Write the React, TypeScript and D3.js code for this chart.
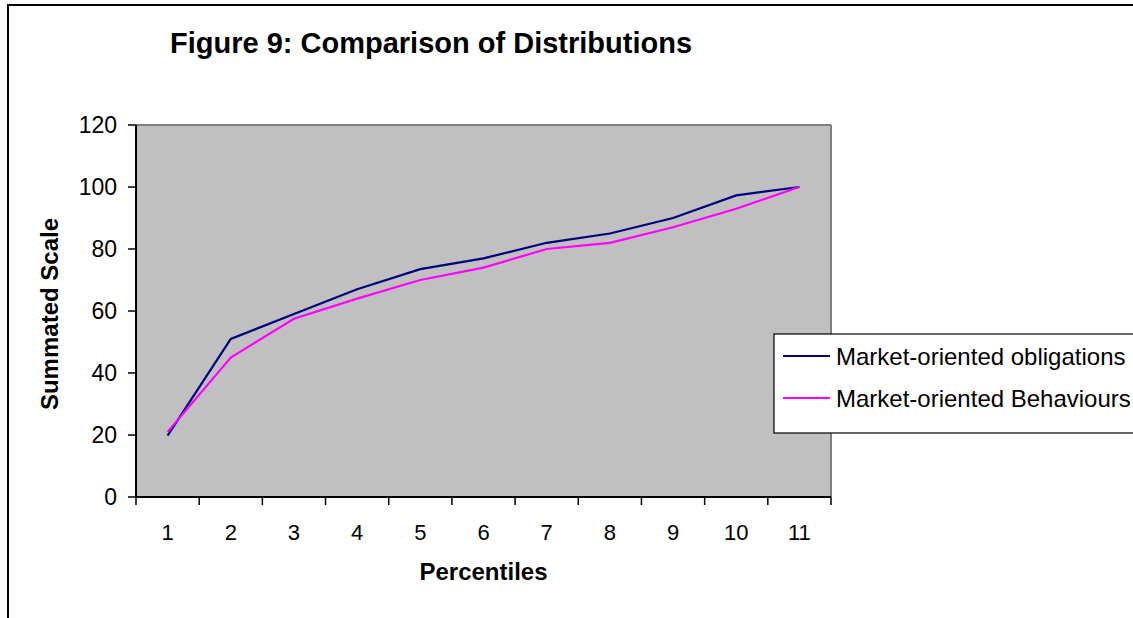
import React from "react";
import * as d3 from "d3";

const categories = ["1", "2", "3", "4", "5", "6", "7", "8", "9", "10", "11"];
const obligations = [19.8, 51, 59, 67, 73.5, 77, 82, 85, 90, 97.3, 100];
const behaviours = [21, 45, 57.5, 64, 70, 74, 80, 82, 87, 93, 100];
const yTicks = [0, 20, 40, 60, 80, 100, 120];
const seriesNames = ["Market-oriented obligations", "Market-oriented Behaviours"];
const seriesColors = ["#000080", "#FF00FF"];

const W = 1133;
const H = 618;
const plot = { left: 136, right: 831, top: 125, bottom: 497 };
const FONT = "'Liberation Sans', Arial, sans-serif";

export default function App() {
  const x = d3.scaleBand<string>().domain(categories).range([plot.left, plot.right]);
  const y = d3.scaleLinear().domain([0, 120]).range([plot.bottom, plot.top]);
  const line = d3
    .line<number>()
    .x((_, i) => (x(categories[i]) as number) + x.bandwidth() / 2)
    .y((d) => y(d));
  const series = [obligations, behaviours];
  const boundaries = categories.map((c) => x(c) as number).concat([plot.right]);

  return (
    <svg
      width={W}
      height={H}
      style={{ position: "absolute", left: 0, top: 0, background: "#fff" }}
      fontFamily={FONT}
    >
      {/* outer frame */}
      <rect x={8} y={5} width={W + 20} height={H + 20} fill="#fff" stroke="#000" strokeWidth={2} />

      {/* title */}
      <text x={170} y={53} fontSize={29} fontWeight="bold" fill="#000">
        Figure 9: Comparison of Distributions
      </text>

      {/* plot area */}
      <rect
        x={plot.left}
        y={plot.top}
        width={plot.right - plot.left}
        height={plot.bottom - plot.top}
        fill="#C0C0C0"
      />
      <line x1={plot.left} x2={plot.right} y1={plot.top} y2={plot.top} stroke="#808080" strokeWidth={2} />
      <line x1={plot.right} x2={plot.right} y1={plot.top} y2={plot.bottom} stroke="#808080" strokeWidth={2} />

      {/* series */}
      {series.map((s, i) => (
        <path key={i} d={line(s) as string} fill="none" stroke={seriesColors[i]} strokeWidth={2.2} />
      ))}

      {/* y axis */}
      <line x1={plot.left} x2={plot.left} y1={plot.top} y2={plot.bottom} stroke="#000" strokeWidth={2} />
      {yTicks.map((t) => (
        <g key={t}>
          <line x1={plot.left - 8} x2={plot.left} y1={y(t)} y2={y(t)} stroke="#000" strokeWidth={1.5} />
          <text x={117} y={y(t)} dy="0.36em" textAnchor="end" fontSize={23} fill="#000">
            {t}
          </text>
        </g>
      ))}

      {/* x axis */}
      <line x1={plot.left} x2={plot.right} y1={plot.bottom} y2={plot.bottom} stroke="#000" strokeWidth={2} />
      {boundaries.map((b, i) => (
        <line key={i} x1={b} x2={b} y1={plot.bottom} y2={plot.bottom + 8} stroke="#000" strokeWidth={1.5} />
      ))}
      {categories.map((c) => (
        <text
          key={c}
          x={(x(c) as number) + x.bandwidth() / 2}
          y={540}
          textAnchor="middle"
          fontSize={22}
          fill="#000"
        >
          {c}
        </text>
      ))}

      {/* axis titles */}
      <text
        transform={`translate(58, ${(plot.top + plot.bottom) / 2 + 3}) rotate(-90)`}
        textAnchor="middle"
        fontSize={24}
        fontWeight="bold"
        fill="#000"
      >
        Summated Scale
      </text>
      <text x={(plot.left + plot.right) / 2} y={580} textAnchor="middle" fontSize={24} fontWeight="bold" fill="#000">
        Percentiles
      </text>

      {/* legend */}
      <rect x={774} y={334} width={W} height={99} fill="#fff" stroke="#000" strokeWidth={1.2} />
      {seriesNames.map((n, i) => (
        <g key={n}>
          <line x1={783} x2={830} y1={356 + i * 42} y2={356 + i * 42} stroke={seriesColors[i]} strokeWidth={2} />
          <text x={836} y={356 + i * 42} dy="0.36em" fontSize={24} fill="#000">
            {n}
          </text>
        </g>
      ))}
    </svg>
  );
}
